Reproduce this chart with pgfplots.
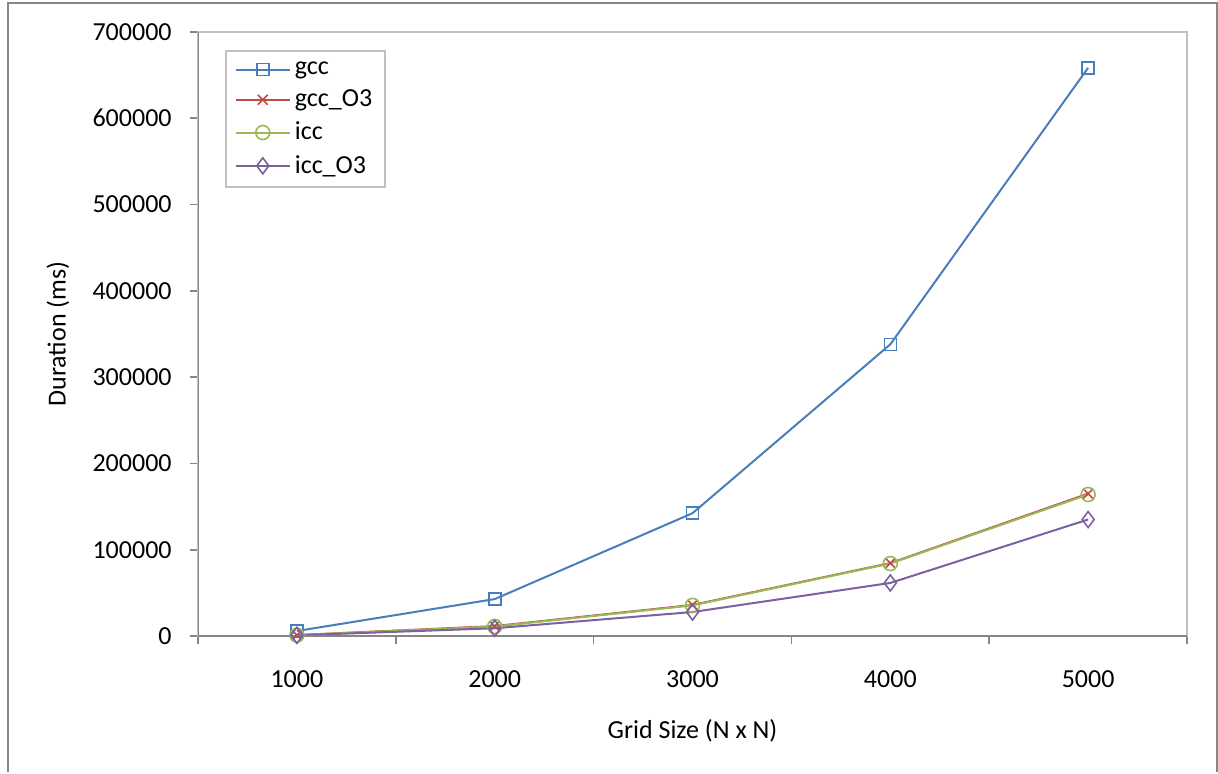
\documentclass[border=0pt]{standalone}
\usepackage{fontspec}
\setmainfont{Carlito}
\usepackage{pgfplots}
\pgfplotsset{compat=1.18}
\definecolor{axgray}{HTML}{868686}
\definecolor{ltgray}{HTML}{C0C0C0}
\definecolor{cgcc}{HTML}{4A7EBB}
\definecolor{cgcco}{HTML}{BE4B48}
\definecolor{cicc}{HTML}{98B954}
\definecolor{cicco}{HTML}{7D60A0}
\begin{document}
\begin{tikzpicture}
\useasboundingbox (-99pt,-68.5pt) rectangle (510pt,318pt);
\draw[axgray, line width=0.8pt] (-95pt,-68pt) -- (-95pt,316.5pt) -- (509.5pt,316.5pt) -- (509.5pt,-68pt);
\begin{axis}[
  at={(0,0)}, anchor=south west,
  scale only axis, width=494.5pt, height=302pt,
  xmin=0.5, xmax=5.5, ymin=0, ymax=700000,
  axis line style={ltgray, line width=0.8pt},
  tick pos=left, tick align=outside,
  major tick length=4pt,
  tick style={axgray, line width=0.8pt},
  xtick={0.5,1.5,2.5,3.5,4.5,5.5}, xticklabels={},
  extra x ticks={1,2,3,4,5},
  extra x tick labels={1000,2000,3000,4000,5000},
  extra x tick style={major tick length=0pt, xticklabel style={anchor=north, inner sep=0pt, yshift=-17pt}},
  ytick={0,100000,...,700000},
  scaled y ticks=false,
  yticklabel style={anchor=east, inner sep=0pt, xshift=-9pt},
  yticklabel={\pgfmathprintnumber[fixed, 1000 sep={}]{\tick}},
  /pgf/number format/assume math mode=true,
  ticklabel style={font=\fontsize{13}{15}\selectfont},
  xlabel={Grid Size (N x N)},
  ylabel={Duration (ms)},
  every axis x label/.style={at={(axis description cs:0.5,-0.157)}, anchor=center, font=\fontsize{13}{15}\selectfont},
  every axis y label/.style={at={(axis description cs:-0.1416,0.5)}, anchor=center, rotate=90, font=\fontsize{13}{15}\selectfont},
  legend style={at={(0,1)}, anchor=north west, xshift=13.5pt, yshift=-9pt,
    draw=ltgray, line width=0.8pt, font=\fontsize{13}{15}\selectfont, inner xsep=4.5pt, inner ysep=3.5pt, row sep=2.2pt},
  legend cell align=left,
  legend image code/.code={\draw[mark repeat=2, mark phase=2] plot coordinates {(0pt,0pt)(13.5pt,0pt)(27pt,0pt)};},
  every axis plot/.append style={line width=1pt, mark options={solid, line width=0.8pt, fill=none}},
]
\addplot[cgcc, mark=square, mark size=3pt] coordinates {(1,5800) (2,42800) (3,142300) (4,338000) (5,658500)};
\addplot[cgcco, mark=x, mark size=3.5pt] coordinates {(1,1100) (2,11500) (3,36000) (4,84500) (5,165000)};
\addplot[cicc, mark=o, mark size=3.5pt] coordinates {(1,1000) (2,11000) (3,35500) (4,84000) (5,164000)};
\addplot[cicco, mark=diamond, mark size=4pt] coordinates {(1,800) (2,9000) (3,27800) (4,61500) (5,135000)};
\legend{gcc,gcc\_O3,icc,icc\_O3}
\draw[axgray, line width=0.8pt] (rel axis cs:0,1) -- (rel axis cs:0,0) -- (rel axis cs:1,0);
\end{axis}
\end{tikzpicture}
\end{document}
